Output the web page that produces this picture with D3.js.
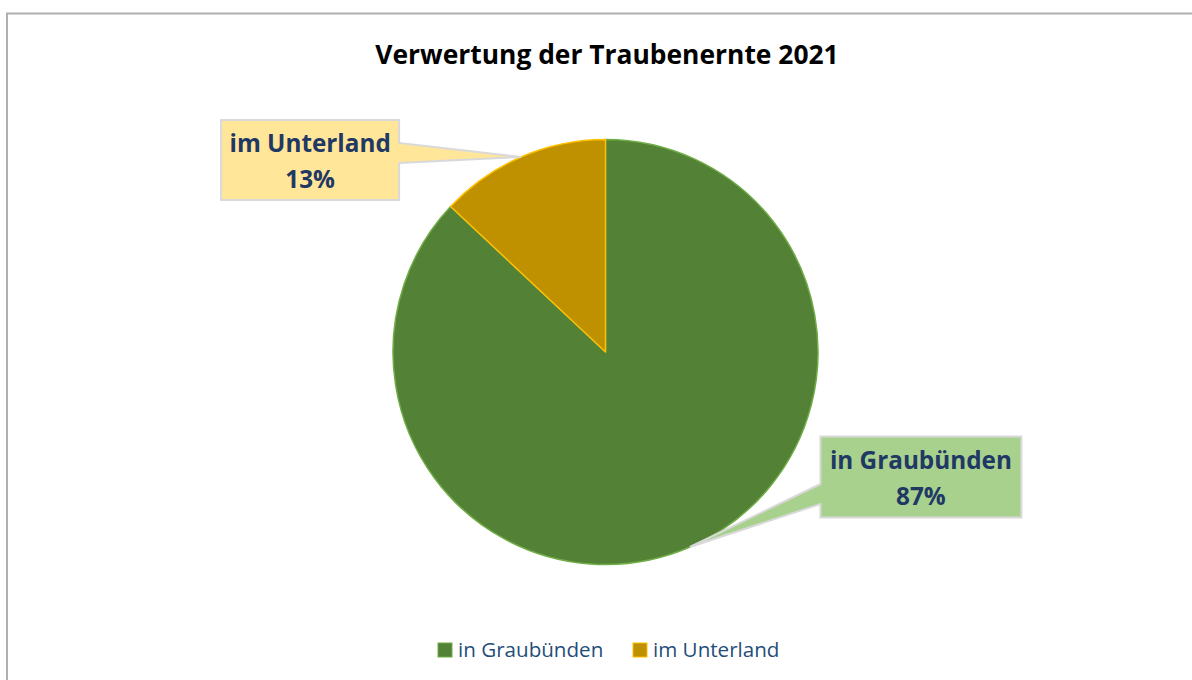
<!DOCTYPE html>
<html>
<head>
<meta charset="utf-8">
<script src="https://cdn.jsdelivr.net/npm/d3@7"></script>
<style>
  body { margin: 0; background: #fff; }
  svg { display: block; font-family: "Open Sans", "Noto Sans", sans-serif; }
</style>
</head>
<body>
<svg id="chart" width="1192" height="680"></svg>
<script>
const categories = ['in Graubünden', 'im Unterland'];
const shares = [87, 13];
const fills = ['#538135', '#BF9000'];
const outlines = ['#70AD47', '#FFC000'];
const labelFills = ['#A9D18E', '#FFE699'];

const width = 1192;
const height = 680;
const cx = 605.5, cy = 352, radius = 212.5;

const svg = d3.select('#chart');

// chart frame (right / bottom edges fall outside the window)
svg.append('rect')
    .attr('x', 7).attr('y', 13.5)
    .attr('width', 1250).attr('height', 720)
    .attr('fill', '#fff')
    .attr('stroke', '#b0b0b0')
    .attr('stroke-width', 2);

svg.append('text')
    .attr('x', 607).attr('y', 64)
    .attr('text-anchor', 'middle')
    .attr('font-size', 26.4)
    .attr('font-weight', 'bold')
    .attr('fill', '#000')
    .text('Verwertung der Traubenernte 2021');

const data = categories.map((c, i) => ({ name: c, value: shares[i], i }));

const pie = d3.pie().value(d => d.value).sort(null);
const arcs = pie(data);
const arc = d3.arc().innerRadius(0).outerRadius(radius);
const edge = d3.arc().innerRadius(radius).outerRadius(radius);

const g = svg.append('g').attr('transform', `translate(${cx},${cy})`);

g.selectAll('path.slice')
    .data(arcs)
    .enter()
    .append('path')
    .attr('class', 'slice')
    .attr('d', arc)
    .attr('fill', d => fills[d.data.i])
    .attr('stroke', d => outlines[d.data.i])
    .attr('stroke-width', 1.5)
    .attr('stroke-linejoin', 'round');

// callout boxes: offset of box centre from the slice's outer midpoint
const boxW = [201, 178], boxH = [81, 80];
const boxOffset = [[231, -70], [-211, 3]];
const pointerSpan = 20;

arcs.forEach(d => {
    const i = d.data.i;
    const [tx, ty] = edge.centroid(d);
    const bx = tx + boxOffset[i][0], by = ty + boxOffset[i][1];
    const x0 = bx - boxW[i] / 2, x1 = bx + boxW[i] / 2;
    const y0 = by - boxH[i] / 2, y1 = by + boxH[i] / 2;
    const py = i === 0 ? by + 7 : by - 17;
    const path = i === 0
        ? `M${x0},${y0} L${x1},${y0} L${x1},${y1} L${x0},${y1} L${x0},${py + pointerSpan} L${tx},${ty} L${x0},${py} Z`
        : `M${x0},${y0} L${x1},${y0} L${x1},${py} L${tx},${ty} L${x1},${py + pointerSpan} L${x1},${y1} L${x0},${y1} Z`;
    g.append('path')
        .attr('d', path)
        .attr('fill', labelFills[i])
        .attr('stroke', '#d9d9d9')
        .attr('stroke-width', 2)
        .attr('stroke-linejoin', 'miter');
    const t = g.append('text')
        .attr('text-anchor', 'middle')
        .attr('font-size', 24.3)
        .attr('font-weight', 'bold')
        .attr('fill', '#1F3864');
    t.append('tspan').attr('x', bx).attr('y', by - 8).text(d.data.name);
    t.append('tspan').attr('x', bx).attr('y', by + 28).text(d.data.value + '%');
});

// legend
const legend = svg.append('g').attr('transform', 'translate(438,643)');
const legendX = [0, 195];
categories.forEach((c, i) => {
    const item = legend.append('g').attr('transform', `translate(${legendX[i]},0)`);
    item.append('rect')
        .attr('width', 14).attr('height', 14)
        .attr('fill', fills[i])
        .attr('stroke', outlines[i])
        .attr('stroke-width', 1);
    item.append('text')
        .attr('x', 20).attr('y', 13.5)
        .attr('font-size', 20.6)
        .attr('fill', '#1F4E79')
        .text(c);
});
</script>
</body>
</html>
